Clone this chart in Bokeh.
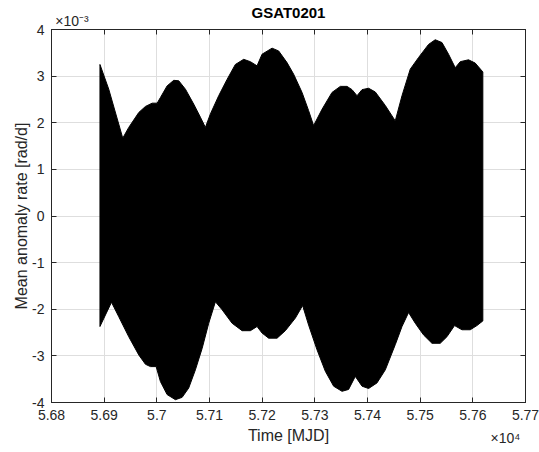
from bokeh.plotting import figure
from bokeh.models import Range1d, FixedTicker, LinearAxis, CustomLabelingPolicy
from bokeh.embed import file_html
from bokeh.resources import INLINE

# Time axis in MJD, values in units of 1e-3 rad/d
x_ticks = [56800, 56900, 57000, 57100, 57200, 57300, 57400, 57500, 57600, 57700]
x_tick_labels = ["5.68", "5.69", "5.7", "5.71", "5.72", "5.73", "5.74", "5.75", "5.76", "5.77"]
y_ticks = [-4, -3, -2, -1, 0, 1, 2, 3, 4]
y_tick_labels = ["-4", "-3", "-2", "-1", "0", "1", "2", "3", "4"]

# Upper envelope of the oscillating mean anomaly rate
upper_mjd = [56892, 56908.7, 56935.3, 56946.7, 56965.7, 56978.4, 56991.1, 57000.6, 57006.8,
             57019.5, 57032.1, 57041.6, 57054.3, 57070.0, 57082.7, 57092.2, 57101.7, 57117.5,
             57133.4, 57149.1, 57164.9, 57177.6, 57190.3, 57199.8, 57218.8, 57231.3, 57247.2,
             57259.8, 57275.7, 57288.2, 57297.7, 57313.7, 57332.6, 57348.4, 57361.1, 57370.6,
             57380.1, 57389.6, 57402.1, 57414.8, 57433.8, 57452.7, 57465.5, 57481.2, 57497.0,
             57515.9, 57528.6, 57541.4, 57553.9, 57566.6, 57576.1, 57591.8, 57604.5, 57619]
upper_val = [3.25, 2.72, 1.67, 1.90, 2.22, 2.35, 2.42, 2.42, 2.54,
             2.79, 2.91, 2.90, 2.72, 2.40, 2.12, 1.90, 2.19, 2.58,
             2.93, 3.25, 3.36, 3.31, 3.22, 3.47, 3.60, 3.54, 3.29,
             3.04, 2.65, 2.26, 1.94, 2.29, 2.65, 2.78, 2.78, 2.71,
             2.58, 2.71, 2.74, 2.66, 2.37, 2.04, 2.58, 3.15, 3.40,
             3.68, 3.78, 3.72, 3.47, 3.18, 3.31, 3.35, 3.28, 3.09]

# Lower envelope
lower_mjd = [56892, 56913.9, 56927.7, 56946.7, 56965.7, 56978.4, 56987.9, 56998.7, 57006.8,
             57019.5, 57035.3, 57048.0, 57060.5, 57073.2, 57086.0, 57098.5, 57111.2, 57123.9,
             57142.9, 57161.9, 57177.6, 57190.3, 57199.8, 57212.3, 57228.3, 57244.0, 57263.0,
             57276.8, 57288.2, 57304.2, 57319.9, 57335.7, 57351.6, 57364.1, 57376.8, 57389.6,
             57402.1, 57418.0, 57433.8, 57452.7, 57465.5, 57478.0, 57490.7, 57506.4, 57522.4,
             57538.1, 57550.8, 57565.3, 57579.3, 57595.1, 57607.8, 57619]
lower_val = [-2.37, -1.85, -2.16, -2.59, -2.98, -3.18, -3.23, -3.23, -3.55,
             -3.83, -3.94, -3.89, -3.69, -3.30, -2.84, -2.30, -1.84, -2.01,
             -2.30, -2.46, -2.46, -2.37, -2.51, -2.62, -2.62, -2.46, -2.19,
             -1.92, -2.34, -2.87, -3.33, -3.65, -3.76, -3.72, -3.44, -3.65,
             -3.70, -3.58, -3.30, -2.76, -2.37, -2.07, -2.30, -2.55, -2.73,
             -2.73, -2.59, -2.35, -2.44, -2.44, -2.35, -2.25]

title_text = "GSAT0201"
x_label = "Time [MJD]"
y_label = "Mean anomaly rate [rad/d]"
y_exponent = "\u00d710\u207b\u00b3"
x_exponent = "\u00d710\u2074"

FONT = "Liberation Sans"
AX = "#262626"
# horizontal anchor positions (MJD) of the exponent notes
TOP_EXP_AT = 56839
BOTTOM_EXP_AT = 57662

p = figure(width=539, height=452, output_backend="svg", toolbar_location=None,
           x_range=Range1d(56800, 57700), y_range=Range1d(-4, 4),
           min_border_left=51, min_border_right=14, min_border_top=27, min_border_bottom=50)
p.background_fill_color = "white"
p.border_fill_color = "white"
p.outline_line_color = AX

xt = FixedTicker(ticks=x_ticks)
yt = FixedTicker(ticks=y_ticks)
hide_all = CustomLabelingPolicy(code="return []")


def box_axis(ax, ticker):
    ax.ticker = ticker
    ax.axis_line_color = AX
    ax.major_tick_line_color = AX
    ax.major_tick_in = 5
    ax.major_tick_out = 0
    ax.minor_tick_line_color = None


def note_axis(ax):
    ax.axis_line_color = None
    ax.major_tick_line_color = None
    ax.minor_tick_line_color = None
    ax.major_tick_in = 0
    ax.major_tick_out = 0


def hidden_labels(ax):
    ax.major_label_policy = hide_all
    ax.major_label_text_color = None
    ax.major_label_text_font_size = "1px"
    ax.major_label_standoff = 0


# main bottom axis: tick labels
xa = p.xaxis[0]
box_axis(xa, xt)
xa.major_label_overrides = {t: l for t, l in zip(x_ticks, x_tick_labels)}
xa.major_label_text_font = FONT
xa.major_label_text_font_size = "14px"
xa.major_label_text_color = AX
xa.major_label_standoff = 7

# left axis
ya = p.yaxis[0]
box_axis(ya, yt)
ya.major_label_overrides = {t: l for t, l in zip(y_ticks, y_tick_labels)}
ya.major_label_text_font = FONT
ya.major_label_text_font_size = "14px"
ya.major_label_text_color = AX
ya.major_label_standoff = 7
ya.axis_label = y_label
ya.axis_label_text_font = FONT
ya.axis_label_text_font_size = "16px"
ya.axis_label_text_font_style = "normal"
ya.axis_label_text_color = AX
ya.axis_label_standoff = -1

# right and top box axes (ticks only)
ra = LinearAxis()
box_axis(ra, yt)
hidden_labels(ra)
p.add_layout(ra, "right")

ta = LinearAxis()
box_axis(ta, xt)
hidden_labels(ta)
p.add_layout(ta, "above")

# top note axis: exponent and title
tn = LinearAxis(ticker=FixedTicker(ticks=[TOP_EXP_AT]))
note_axis(tn)
tn.major_label_overrides = {TOP_EXP_AT: y_exponent}
tn.major_label_text_font = FONT
tn.major_label_text_font_size = "14px"
tn.major_label_text_color = AX
tn.major_label_standoff = 1
tn.axis_label = title_text
tn.axis_label_text_font = FONT
tn.axis_label_text_font_size = "15px"
tn.axis_label_text_font_style = "bold"
tn.axis_label_text_color = "#000000"
tn.axis_label_standoff = -11
p.add_layout(tn, "above")

# bottom note axis: exponent and axis label
bn = LinearAxis(ticker=FixedTicker(ticks=[BOTTOM_EXP_AT]))
note_axis(bn)
bn.major_label_overrides = {BOTTOM_EXP_AT: x_exponent}
bn.major_label_text_font = FONT
bn.major_label_text_font_size = "14px"
bn.major_label_text_color = AX
bn.major_label_standoff = 7
bn.axis_label = x_label
bn.axis_label_text_font = FONT
bn.axis_label_text_font_size = "16px"
bn.axis_label_text_font_style = "normal"
bn.axis_label_text_color = AX
bn.axis_label_standoff = -22
p.add_layout(bn, "below")

p.xgrid.ticker = xt
p.ygrid.ticker = yt
p.xgrid.grid_line_color = "#dedede"
p.ygrid.grid_line_color = "#dedede"

poly_x = upper_mjd + lower_mjd[::-1]
poly_y = upper_val + lower_val[::-1]
p.patch(poly_x, poly_y, fill_color="black", line_color="black", line_width=1)

open("out.html", "w").write(file_html(p, INLINE))
